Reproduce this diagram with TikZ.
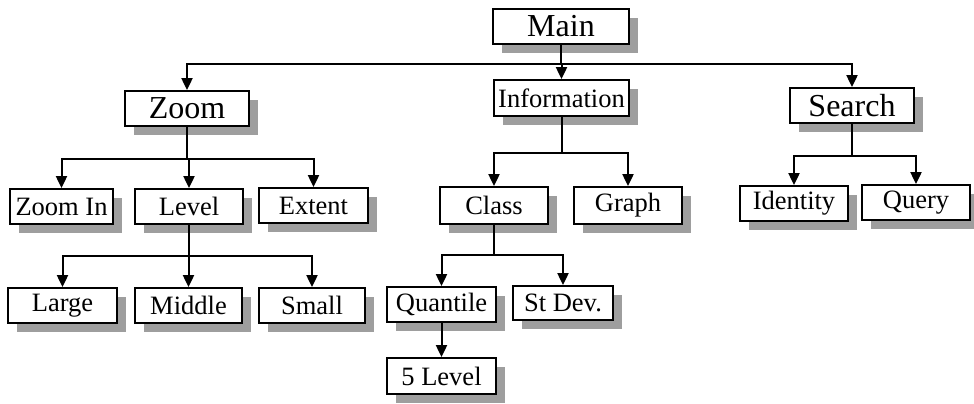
\documentclass[tikz,border=0pt]{standalone}
\usepackage{fontspec}
\setmainfont{Liberation Serif}
\usetikzlibrary{shadows,arrows.meta}
\begin{document}
\begin{tikzpicture}[x=1pt,y=-1pt,
  box/.style={draw=black, fill=white, line width=1.8pt, inner sep=0pt,
    minimum height=35pt, font=\fontsize{26.5}{30}\selectfont,
    drop shadow={shadow xshift=9pt, shadow yshift=-9pt, fill=black!38, opacity=1}},
  bigbox/.style={box, font=\fontsize{32}{35}\selectfont},
  link/.style={line width=2pt, -{Triangle[length=12pt,width=11pt]}}]
\useasboundingbox (0,0) rectangle (974,404);

% top level
\node[bigbox, minimum width=136pt] (main) at (561,26.5) {Main};
\node[bigbox, minimum width=124pt] (zoom) at (187,108.5) {Zoom};
\node[box, minimum width=135pt, minimum height=36pt] (info) at (561.5,98) {Information};
\node[bigbox, minimum width=124pt] (search) at (852,105.5) {Search};

% Zoom branch
\node[box, minimum width=103pt] (zoomin) at (61.5,206.5) {Zoom In};
\node[box, minimum width=108pt] (level) at (189,206.5) {Level};
\node[box, minimum width=109pt] (extent) at (313.5,205.5) {Extent};
\node[box, minimum width=109pt] (large) at (62.5,305.5) {Large};
\node[box, minimum width=107pt] (middle) at (188.5,305.5) {Middle};
\node[box, minimum width=106pt] (small) at (312,305.5) {Small};

% Information branch
\node[box, minimum width=108pt, minimum height=37pt] (class) at (494,205.5) {Class};
\node[box, minimum width=108pt, minimum height=37pt] (graph) at (628,205.5) {Graph};
\node[box, minimum width=109pt] (quantile) at (441.5,304.5) {Quantile};
\node[box, minimum width=100pt, minimum height=34pt] (stdev) at (563,303) {St Dev.};
\node[box, minimum width=109pt, minimum height=36pt] (five) at (441.5,376) {5 Level};

% Search branch
\node[box, minimum width=108pt] (identity) at (794,203.5) {Identity};
\node[box, minimum width=108pt] (query) at (916,202.5) {Query};

% connectors
\foreach \c in {zoom,info,search}
  \draw[link] (main.south) -- ++(0,19) -| (\c.north);
\foreach \c in {zoomin,level,extent}
  \draw[link] (zoom.south) -- ++(0,32) -| (\c.north);
\foreach \c in {large,middle,small}
  \draw[link] (level.south) -- ++(0,31) -| (\c.north);
\foreach \c in {class,graph}
  \draw[link] (info.south) -- ++(0,36) -| (\c.north);
\foreach \c in {quantile,stdev}
  \draw[link] (class.south) -- ++(0,30) -| (\c.north);
\draw[link] (quantile.south) -- (five.north);
\foreach \c in {identity,query}
  \draw[link] (search.south) -- ++(0,32) -| (\c.north);
\end{tikzpicture}
\end{document}
